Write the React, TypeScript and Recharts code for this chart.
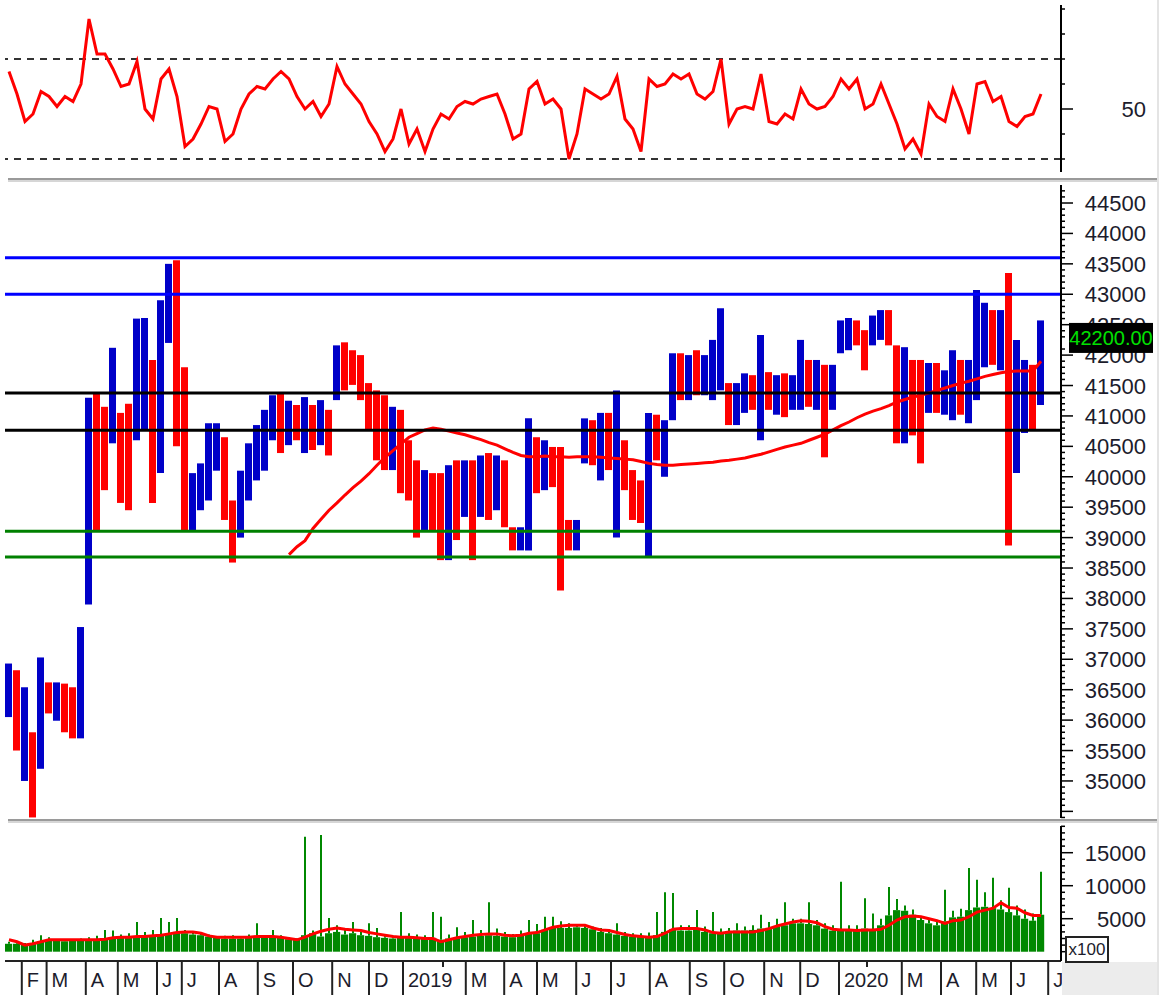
import React from 'react';
import { ComposedChart, Bar, Line, XAxis, YAxis, ReferenceLine, Cell } from 'recharts';

// weekly bars, Jan 2018 -> Jul 2020
const priceHigh = [
  36930, 36820, 36540, 35800, 37030, 36620, 36620, 36600, 36540, 37530,
  41300, 41380, 41150, 42120, 41050, 41200, 42600, 42610, 41920, 42900,
  43500, 43560, 41800, 40060, 40220, 40880, 40880, 40650, 39610, 40100,
  40550, 40850, 41100, 41340, 41380, 41250, 41180, 41310, 41180, 41260,
  41100, 42160, 42210, 42080, 42000, 41540, 41420, 41340, 41150, 41100,
  40600, 40270, 40110, 40060, 40060, 40190, 40270, 40270, 40270, 40350,
  40390, 40350, 40270, 39170, 39170, 40960, 40650, 40600, 40490, 40490,
  39290, 39290, 40960, 40930, 41050, 41050, 41420, 40600, 40110, 39940,
  41050, 41020, 40930, 42030, 42030, 42000, 42080, 42000, 42250, 42770,
  41540, 41540, 41700, 41670, 42330, 41720, 41670, 41700, 41670, 42250,
  41920, 41920, 41840, 41840, 42570, 42610, 42570, 42410, 42650, 42740,
  42740, 42160, 42130, 41920, 41920, 41870, 41870, 41750, 42080, 41920,
  41920, 43070, 42860, 42740, 42740, 43350, 42250, 41920, 41840, 42570,
];
const priceLow = [
  36050, 35500, 35000, 34400, 35200, 36110, 35990, 35800, 35700, 35700,
  37900, 39120, 39780, 40550, 39570, 39450, 40600, 40770, 39570, 40060,
  42200, 40500, 39120, 39120, 39450, 39610, 40100, 39290, 38590, 39000,
  39610, 39940, 40100, 40600, 40390, 40520, 40600, 40390, 40440, 40520,
  40350, 41260, 41420, 41510, 41260, 40770, 40270, 40110, 40110, 39730,
  39610, 39000, 39120, 39120, 38630, 38630, 38960, 39340, 38630, 39340,
  39290, 39450, 39170, 38790, 38790, 38790, 39730, 39780, 39830, 38130,
  38790, 38790, 40220, 40190, 39940, 40110, 39000, 39780, 39290, 39240,
  38680, 40270, 40000, 40930, 41260, 41260, 41340, 41340, 41260, 41420,
  40850, 40850, 41050, 41100, 40600, 41100, 41020, 40980, 41100, 41100,
  41150, 41100, 40320, 41100, 42030, 42080, 42160, 41750, 42160, 42250,
  42160, 40550, 40550, 40680, 40220, 41050, 41050, 41020, 40930, 41020,
  40880, 41260, 41800, 41840, 41750, 38870, 40060, 40720, 40770, 41180,
];
const priceClose = [
  36300, 35800, 36000, 35200, 36600, 36300, 36400, 36200, 35900, 37400,
  40800, 40500, 40300, 41500, 40600, 40200, 42000, 42300, 40800, 42700,
  43200, 41500, 39500, 39700, 39900, 40600, 40800, 39600, 39300, 39900,
  40400, 40600, 40900, 41100, 40900, 41000, 40800, 41000, 40700, 40900,
  40800, 42000, 41900, 41700, 41500, 41000, 40700, 40500, 40800, 40000,
  39900, 39500, 39800, 39400, 39200, 39700, 39500, 40000, 39900, 40000,
  39800, 40100, 39400, 38900, 39000, 40400, 40100, 40300, 40000, 39400,
  38900, 39100, 40700, 40500, 40800, 40600, 40900, 40000, 39700, 39400,
  40800, 40600, 40800, 41700, 41500, 41800, 41600, 41700, 41900, 42200,
  41100, 41300, 41400, 41300, 41600, 41300, 41400, 41200, 41500, 41700,
  41500, 41600, 41300, 41600, 42300, 42400, 42300, 42000, 42400, 42600,
  42300, 41000, 41300, 41100, 40800, 41400, 41300, 41500, 41700, 41300,
  41400, 42400, 42500, 42200, 42500, 40800, 41100, 41300, 41200, 42200,
];
const priceMA = [
  null, null, null, null, null, null, null, null, null, null,
  null, null, null, null, null, null, null, null, null, null,
  null, null, null, null, null, null, null, null, null, null,
  null, null, null, null, null, 38720, 38850, 38950, 39150, 39300,
  39450, 39570, 39700, 39820, 39930, 40050, 40190, 40320, 40430, 40540,
  40650, 40710, 40770, 40800, 40780, 40750, 40720, 40690, 40650, 40610,
  40560, 40520, 40460, 40400, 40350, 40330, 40330, 40340, 40330, 40330,
  40320, 40330, 40330, 40330, 40320, 40310, 40300, 40290, 40280, 40250,
  40220, 40200, 40190, 40190, 40200, 40210, 40220, 40230, 40240, 40260,
  40270, 40290, 40310, 40340, 40370, 40410, 40450, 40490, 40520, 40550,
  40600, 40650, 40700, 40770, 40840, 40900, 40970, 41030, 41080, 41120,
  41170, 41230, 41270, 41310, 41340, 41380, 41420, 41460, 41500, 41540,
  41570, 41610, 41650, 41680, 41710, 41730, 41740, 41740, 41740, 41900,
];
const rsi = [
  65, 56, 45, 48, 57, 55, 51, 55, 53, 60,
  86, 72, 72, 66, 59, 60, 69, 50, 46, 62,
  66, 55, 35, 38, 44, 51, 50, 37, 40, 50,
  56, 59, 58, 62, 65, 62, 55, 50, 53, 47,
  52, 67, 60, 56, 52, 45, 40, 33, 38, 50,
  36, 42, 33, 42, 48, 46, 51, 53, 52, 54,
  55, 56, 48, 38, 40, 58, 61, 52, 54, 50,
  30, 40, 58, 56, 54, 56, 63, 46, 42, 33,
  62, 59, 60, 64, 62, 64, 56, 54, 57, 70,
  44, 50, 51, 50, 64, 45, 44, 48, 46, 58,
  52, 50, 51, 55, 62, 58, 62, 50, 52, 60,
  52, 44, 34, 38, 32, 52, 47, 45, 58, 50,
  40, 60, 61, 53, 55, 45, 43, 47, 48, 56,
];
// volume in x100 units
const volBase = [
  1200, 1200, 1100, 1300, 1600, 1700, 1700, 1600, 1700, 1700,
  1800, 1800, 2000, 2100, 2200, 2200, 2300, 2300, 2300, 2600,
  2800, 3000, 2800, 2600, 2500, 2300, 2100, 2000, 2000, 2000,
  2100, 2200, 2200, 2300, 2100, 1900, 1800, 2500, 2800, 2300,
  2800, 3000, 2600, 2800, 2500, 2400, 2200, 2100, 2000, 2200,
  2200, 2000, 2000, 2100, 1800, 2000, 2100, 2200, 2300, 2400,
  2500, 2400, 2300, 2200, 2400, 2800, 2800, 3300, 3600, 3600,
  3600, 3700, 3600, 3400, 3000, 2800, 2600, 2400, 2300, 2300,
  2300, 2500, 3000, 3400, 3200, 3200, 3300, 3000, 2800, 2800,
  3100, 3200, 3200, 3300, 3500, 3600, 3800, 4000, 4300, 4300,
  4200, 4000, 3500, 3200, 3200, 3200, 3300, 3500, 3400, 4000,
  5500, 6300, 6200, 5600, 4800, 4300, 4000, 4600, 5200, 5300,
  6300, 6700, 6800, 6600, 6400, 6000, 5500, 5000, 4700, 5600,
];
const volPeak = [
  1500, 1400, 1300, 1800, 2500, 2200, 1900, 1900, 1900, 2000,
  2200, 2400, 3300, 3200, 2600, 2800, 4500, 3000, 3300, 5100,
  4500, 5100, 3300, 3000, 2900, 2600, 2300, 2400, 2500, 2300,
  2600, 4300, 2500, 3300, 2500, 2200, 2000, 17400, 3200, 17700,
  5100, 4000, 3600, 4500, 3200, 4300, 3600, 2500, 2400, 6000,
  2800, 2600, 2500, 6000, 5300, 2600, 3700, 3000, 4800, 3300,
  7500, 3500, 3000, 2700, 3200, 4800, 4200, 5300, 5300, 4600,
  4300, 4200, 4000, 3800, 3600, 3400, 4300, 3000, 2800, 2800,
  2900, 6000, 9000, 8900, 4000, 4000, 6300, 3800, 6000, 3500,
  3600, 4300, 3800, 4000, 5600, 4500, 5000, 7500, 5000, 5000,
  7500, 4800, 4300, 4000, 10600, 4000, 4000, 8100, 5800, 5000,
  9800, 8000, 7000, 6400, 5400, 5000, 4800, 9400, 6200, 6500,
  12700, 10900, 9000, 11200, 7800, 9700, 7000, 6400, 5800, 12100,
];
const volMA = [
  1800, 1500, 1000, 1200, 1500, 1800, 1800, 1800, 1800, 1800,
  1800, 1800, 1900, 2100, 2200, 2200, 2300, 2300, 2400, 2500,
  2700, 2900, 3000, 3000, 2800, 2400, 2200, 2200, 2200, 2200,
  2200, 2300, 2300, 2300, 2200, 2000, 1800, 2200, 2700, 3100,
  3400, 3600, 3400, 3300, 3200, 2900, 2700, 2500, 2300, 2200,
  2200, 2100, 2000, 2000, 1500, 1800, 2100, 2300, 2500, 2600,
  2700, 2700, 2500, 2400, 2500, 2800, 2900, 3300, 3700, 3900,
  4000, 4000, 4000, 3600, 3300, 3200, 2900, 2600, 2400, 2300,
  2200, 2300, 2800, 3400, 3500, 3500, 3500, 3300, 2900, 2800,
  3000, 3000, 3000, 3000, 3200, 3500, 3900, 4200, 4500, 4700,
  4600, 4400, 3800, 3400, 3300, 3300, 3200, 3300, 3300, 3400,
  4000, 4800, 5300, 5400, 5300, 5000, 4700, 4300, 4700, 4800,
  5300, 6000, 6300, 6600, 7400, 6700, 6600, 5900, 5500, 5500,
];

const monthTicks = [
  1.6, 4.7, 9.6, 13.6, 18.5, 21.6, 26.25, 31.1, 35.5, 40.4, 45, 49.25, 54.25, 57.1, 61.9,
  66, 70.9, 75.25, 80.1, 85.1, 89.4, 94.4, 98.9, 103.75, 107.25, 111.6, 116.5, 120.9, 125.25, 129.9,
];
const monthLabels = [
  'F', 'M', 'A', 'M', 'J', 'J', 'A', 'S', 'O', 'N', 'D', '2019', '', 'M', 'A',
  'M', 'J', 'J', 'A', 'S', 'O', 'N', 'D', '2020', '', 'M', 'A', 'M', 'J', 'J',
];

const levelsBlue = [43600, 43000];
const levelsBlack = [41375, 40765];
const levelsGreen = [39105, 38680];

const lastClose = priceClose[priceClose.length - 1];

const priceTicks: number[] = [];
for (let v = 34400; v <= 44700; v += 100) if (v !== lastClose) priceTicks.push(v);
// the last-price badge goes last so it is painted over the other tick labels
priceTicks.push(lastClose);
const volTicks: number[] = [];
for (let v = 0; v <= 19000; v += 1000) volTicks.push(v);
const rsiTicks = [30, 40, 50, 60, 70, 80, 90];

const data = priceHigh.map((hi, i) => ({
  i,
  range: [priceLow[i], hi],
  up: i === 0 || priceClose[i] >= priceClose[i - 1],
  ma: priceMA[i],
  rsi: rsi[i],
  vol: volBase[i],
  volSpike: [volBase[i], volPeak[i]],
  volMA: volMA[i],
}));

const FONT = '"Liberation Sans", Arial, sans-serif';
const X_DOMAIN: [number, number] = [-0.5, 131.5];
const W = 1164;
const AXIS_W = 103;

const makeYTick = (majorStep: number, labelled: (v: number) => boolean) => (props: any) => {
  const { x, y, payload } = props;
  const v = payload.value;
  const major = v % majorStep === 0;
  return (
    <g>
      <line x1={x} x2={x + (major ? 12 : 4)} y1={y} y2={y} stroke="#000" strokeWidth={1.5} />
      {major && labelled(v) && (
        <text x={x + 85} y={y} dy={8} textAnchor="end" fontSize={22} fill="#1c1c2c" fontFamily={FONT}>
          {v}
        </text>
      )}
    </g>
  );
};

const priceScaleTick = makeYTick(500, (v) => v >= 35000 && v <= 44500);

const PriceTick = (props: any) => {
  const { x, y, payload, index } = props;
  if (payload.value === lastClose && index === priceTicks.length - 1) {
    return (
      <g>
        <rect x={x + 8} y={y - 20} width={84} height={30} fill="#000" />
        <text x={x + 50} y={y + 2} textAnchor="middle" fontSize={20} fill="#00e000" fontFamily={FONT}>
          {lastClose.toFixed(2)}
        </text>
      </g>
    );
  }
  return priceScaleTick(props);
};

const MonthTick = (props: any) => {
  const { x, y, payload } = props;
  const label = monthLabels[monthTicks.indexOf(payload.value)];
  if (!label) {
    return <line x1={x} x2={x} y1={y} y2={y + 6} stroke="#222" strokeWidth={2} />;
  }
  return (
    <g>
      <line x1={x} x2={x} y1={y} y2={y + 34} stroke="#222" strokeWidth={2} />
      <text x={x + 5} y={y + 26} fontSize={20} fill="#1c1c2c" fontFamily={FONT}>
        {label}
      </text>
    </g>
  );
};

const Separator = ({ top }: { top: number }) => (
  <div
    style={{
      position: 'absolute',
      left: 8,
      top,
      width: 1150,
      height: 0,
      borderTop: '2px solid #9a9a9a',
      borderBottom: '2px solid #d6d6d6',
    }}
  />
);

export default function App() {
  return (
    <div
      style={{
        position: 'absolute',
        left: 0,
        top: 0,
        width: W,
        height: 995,
        background: '#fff',
        overflow: 'hidden',
        fontFamily: FONT,
      }}
    >
      {/* RSI */}
      <div style={{ position: 'absolute', left: 0, top: 0 }}>
        <ComposedChart width={W} height={178} data={data} margin={{ top: 5, right: 0, bottom: 6, left: 5 }}>
          <XAxis type="number" dataKey="i" domain={X_DOMAIN} hide allowDataOverflow />
          <YAxis
            orientation="right"
            width={AXIS_W}
            domain={[24.8, 91.6]}
            ticks={rsiTicks}
            interval={0}
            allowDataOverflow
            tickSize={0}
            tickMargin={0}
            axisLine={{ stroke: '#000', strokeWidth: 2 }}
            tick={makeYTick(50, () => true)}
          />
          <ReferenceLine y={70} stroke="#333" strokeWidth={2} strokeDasharray="7 6" />
          <ReferenceLine y={30} stroke="#333" strokeWidth={2} strokeDasharray="7 6" />
          <Line dataKey="rsi" stroke="#ff0000" strokeWidth={3} dot={false} isAnimationActive={false} />
        </ComposedChart>
      </div>
      <Separator top={178} />

      {/* Price */}
      <div style={{ position: 'absolute', left: 0, top: 182 }}>
        <ComposedChart width={W} height={640} data={data} margin={{ top: 3, right: 0, bottom: 4, left: 5 }}>
          <XAxis type="number" dataKey="i" domain={X_DOMAIN} hide allowDataOverflow />
          <YAxis
            orientation="right"
            width={AXIS_W}
            domain={[34391, 44796]}
            ticks={priceTicks}
            interval={0}
            allowDataOverflow
            tickSize={0}
            tickMargin={0}
            axisLine={{ stroke: '#000', strokeWidth: 2 }}
            tick={PriceTick}
          />
          <Bar dataKey="range" barSize={7} isAnimationActive={false}>
            {data.map((d) => (
              <Cell key={d.i} fill={d.up ? '#0000c8' : '#ff0000'} />
            ))}
          </Bar>
          <Line dataKey="ma" stroke="#ff0000" strokeWidth={3} dot={false} isAnimationActive={false} />
          {levelsBlue.map((v) => (
            <ReferenceLine key={v} y={v} stroke="#0000ff" strokeWidth={3} />
          ))}
          {levelsBlack.map((v) => (
            <ReferenceLine key={v} y={v} stroke="#000" strokeWidth={3} />
          ))}
          {levelsGreen.map((v) => (
            <ReferenceLine key={v} y={v} stroke="#008000" strokeWidth={3} />
          ))}
        </ComposedChart>
      </div>
      <Separator top={819} />

      {/* Volume + month axis */}
      <div style={{ position: 'absolute', left: 0, top: 822 }}>
        <ComposedChart width={W} height={173} data={data} margin={{ top: 4, right: 0, bottom: 0, left: 5 }}>
          <XAxis
            type="number"
            dataKey="i"
            domain={X_DOMAIN}
            allowDataOverflow
            ticks={monthTicks}
            interval={0}
            height={34}
            tickSize={0}
            tickMargin={0}
            axisLine={{ stroke: '#222', strokeWidth: 2 }}
            tick={<MonthTick />}
          />
          <XAxis xAxisId="thin" type="number" dataKey="i" domain={X_DOMAIN} hide allowDataOverflow />
          <YAxis
            orientation="right"
            width={AXIS_W}
            domain={[-1409, 19045]}
            ticks={volTicks}
            interval={0}
            allowDataOverflow
            tickSize={0}
            tickMargin={0}
            axisLine={{ stroke: '#000', strokeWidth: 2 }}
            tick={makeYTick(5000, (v) => v > 0)}
          />
          <Bar dataKey="vol" fill="#008800" barSize={8} isAnimationActive={false} />
          <Bar xAxisId="thin" dataKey="volSpike" fill="#008800" barSize={2} isAnimationActive={false} />
          <Line dataKey="volMA" stroke="#ff0000" strokeWidth={3} dot={false} isAnimationActive={false} />
        </ComposedChart>
      </div>
      <div
        style={{
          position: 'absolute',
          left: 1062,
          top: 962,
          width: 96,
          height: 33,
          background: '#ececec',
        }}
      />
      <div
        style={{
          position: 'absolute',
          left: 1065,
          top: 936,
          width: 40,
          height: 23,
          border: '2px solid #222',
          background: '#fff',
          fontSize: 17,
          lineHeight: '23px',
          color: '#1c1c2c',
          textAlign: 'center',
        }}
      >
        x100
      </div>
      <div style={{ position: 'absolute', left: 1157, top: 0, width: 2, height: 995, background: '#e4e4e4' }} />
    </div>
  );
}
